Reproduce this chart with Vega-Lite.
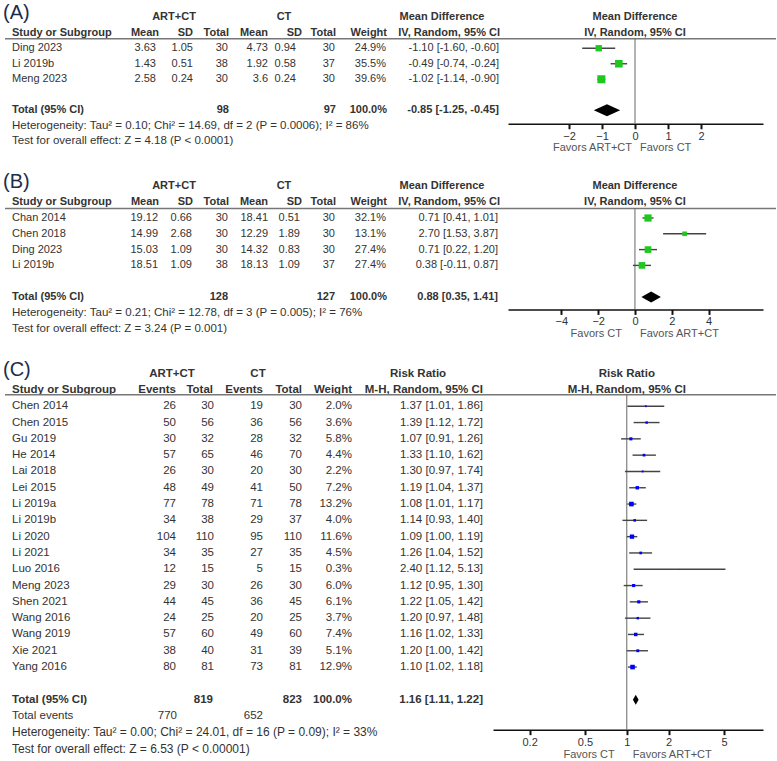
{
"$schema":"https://vega.github.io/schema/vega-lite/v6.json",
"background":"white",
"padding":{"top":2.5,"left":0,"right":0,"bottom":0},
"columns":2,
"spacing":{"row":0,"column":0},
"bounds":"flush",
"datasets":{
"A":[
{"study":"Ding 2023","m1":3.63,"sd1":1.05,"n1":30,"m2":4.73,"sd2":0.94,"n2":30,"w":0.249,"md":-1.10,"lo":-1.60,"hi":-0.60,"ci":"-1.10 [-1.60, -0.60]"},
{"study":"Li 2019b","m1":1.43,"sd1":0.51,"n1":38,"m2":1.92,"sd2":0.58,"n2":37,"w":0.355,"md":-0.49,"lo":-0.74,"hi":-0.24,"ci":"-0.49 [-0.74, -0.24]"},
{"study":"Meng 2023","m1":2.58,"sd1":0.24,"n1":30,"m2":3.6,"sd2":0.24,"n2":30,"w":0.396,"md":-1.02,"lo":-1.14,"hi":-0.90,"ci":"-1.02 [-1.14, -0.90]"}],
"A_tot":[{"study":"Total (95% CI)","n1":98,"n2":97,"w":1,"md":-0.85,"lo":-1.25,"hi":-0.45,"ci":"-0.85 [-1.25, -0.45]"}],
"A_notes":[{"row":"het","t":"Heterogeneity: Tau² = 0.10; Chi² = 14.69, df = 2 (P = 0.0006); I² = 86%"},{"row":"test","t":"Test for overall effect: Z = 4.18 (P < 0.0001)"}],
"B":[
{"study":"Chan 2014","m1":19.12,"sd1":0.66,"n1":30,"m2":18.41,"sd2":0.51,"n2":30,"w":0.321,"md":0.71,"lo":0.41,"hi":1.01,"ci":"0.71 [0.41, 1.01]"},
{"study":"Chen 2018","m1":14.99,"sd1":2.68,"n1":30,"m2":12.29,"sd2":1.89,"n2":30,"w":0.131,"md":2.70,"lo":1.53,"hi":3.87,"ci":"2.70 [1.53, 3.87]"},
{"study":"Ding 2023","m1":15.03,"sd1":1.09,"n1":30,"m2":14.32,"sd2":0.83,"n2":30,"w":0.274,"md":0.71,"lo":0.22,"hi":1.20,"ci":"0.71 [0.22, 1.20]"},
{"study":"Li 2019b","m1":18.51,"sd1":1.09,"n1":38,"m2":18.13,"sd2":1.09,"n2":37,"w":0.274,"md":0.38,"lo":-0.11,"hi":0.87,"ci":"0.38 [-0.11, 0.87]"}],
"B_tot":[{"study":"Total (95% CI)","n1":128,"n2":127,"w":1,"md":0.88,"lo":0.35,"hi":1.41,"ci":"0.88 [0.35, 1.41]"}],
"B_notes":[{"row":"het","t":"Heterogeneity: Tau² = 0.21; Chi² = 12.78, df = 3 (P = 0.005); I² = 76%"},{"row":"test","t":"Test for overall effect: Z = 3.24 (P = 0.001)"}],
"C":[
{"study":"Chen 2014","e1":26,"n1":30,"e2":19,"n2":30,"w":0.020,"rr":1.37,"lo":1.01,"hi":1.86,"ci":"1.37 [1.01, 1.86]"},
{"study":"Chen 2015","e1":50,"n1":56,"e2":36,"n2":56,"w":0.036,"rr":1.39,"lo":1.12,"hi":1.72,"ci":"1.39 [1.12, 1.72]"},
{"study":"Gu 2019","e1":30,"n1":32,"e2":28,"n2":32,"w":0.058,"rr":1.07,"lo":0.91,"hi":1.26,"ci":"1.07 [0.91, 1.26]"},
{"study":"He 2014","e1":57,"n1":65,"e2":46,"n2":70,"w":0.044,"rr":1.33,"lo":1.10,"hi":1.62,"ci":"1.33 [1.10, 1.62]"},
{"study":"Lai 2018","e1":26,"n1":30,"e2":20,"n2":30,"w":0.022,"rr":1.30,"lo":0.97,"hi":1.74,"ci":"1.30 [0.97, 1.74]"},
{"study":"Lei 2015","e1":48,"n1":49,"e2":41,"n2":50,"w":0.072,"rr":1.19,"lo":1.04,"hi":1.37,"ci":"1.19 [1.04, 1.37]"},
{"study":"Li 2019a","e1":77,"n1":78,"e2":71,"n2":78,"w":0.132,"rr":1.08,"lo":1.01,"hi":1.17,"ci":"1.08 [1.01, 1.17]"},
{"study":"Li 2019b","e1":34,"n1":38,"e2":29,"n2":37,"w":0.040,"rr":1.14,"lo":0.93,"hi":1.40,"ci":"1.14 [0.93, 1.40]"},
{"study":"Li 2020","e1":104,"n1":110,"e2":95,"n2":110,"w":0.116,"rr":1.09,"lo":1.00,"hi":1.19,"ci":"1.09 [1.00, 1.19]"},
{"study":"Li 2021","e1":34,"n1":35,"e2":27,"n2":35,"w":0.045,"rr":1.26,"lo":1.04,"hi":1.52,"ci":"1.26 [1.04, 1.52]"},
{"study":"Luo 2016","e1":12,"n1":15,"e2":5,"n2":15,"w":0.003,"rr":2.40,"lo":1.12,"hi":5.13,"ci":"2.40 [1.12, 5.13]"},
{"study":"Meng 2023","e1":29,"n1":30,"e2":26,"n2":30,"w":0.060,"rr":1.12,"lo":0.95,"hi":1.30,"ci":"1.12 [0.95, 1.30]"},
{"study":"Shen 2021","e1":44,"n1":45,"e2":36,"n2":45,"w":0.061,"rr":1.22,"lo":1.05,"hi":1.42,"ci":"1.22 [1.05, 1.42]"},
{"study":"Wang 2016","e1":24,"n1":25,"e2":20,"n2":25,"w":0.037,"rr":1.20,"lo":0.97,"hi":1.48,"ci":"1.20 [0.97, 1.48]"},
{"study":"Wang 2019","e1":57,"n1":60,"e2":49,"n2":60,"w":0.074,"rr":1.16,"lo":1.02,"hi":1.33,"ci":"1.16 [1.02, 1.33]"},
{"study":"Xie 2021","e1":38,"n1":40,"e2":31,"n2":39,"w":0.051,"rr":1.20,"lo":1.00,"hi":1.42,"ci":"1.20 [1.00, 1.42]"},
{"study":"Yang 2016","e1":80,"n1":81,"e2":73,"n2":81,"w":0.129,"rr":1.10,"lo":1.02,"hi":1.18,"ci":"1.10 [1.02, 1.18]"}],
"C_tot":[{"study":"Total (95% CI)","n1":819,"n2":823,"e1":770,"e2":652,"w":1,"rr":1.16,"lo":1.11,"hi":1.22,"ci":"1.16 [1.11, 1.22]"}],
"C_notes":[{"row":"het","t":"Heterogeneity: Tau² = 0.00; Chi² = 24.01, df = 16 (P = 0.09); I² = 33%"},{"row":"test","t":"Test for overall effect: Z = 6.53 (P < 0.00001)"}]
},
"concat":[
{
"width":493,"height":168.25,
"data":{"name":"A_tot"},
"layer":[
{"mark":{"type":"text","align":"left","fontSize":20,"color":"#1c2c4c","dy":-4},"encoding":{"x":{"datum":3,"type":"quantitative","scale":{"domain":[0,493],"nice":false,"zero":false},"axis":null},"y":{"datum":"h1","type":"nominal","scale":{"type":"point","domain":["h1","h2","Ding 2023","Li 2019b","Meng 2023","gap","Total (95% CI)","het","test","p1"],"padding":0.9274,"align":0.2696},"axis":null},"text":{"value":"(A)"}}},
{"mark":{"type":"text","align":"center","fontWeight":"bold"},"encoding":{"x":{"datum":174,"axis":null},"y":{"datum":"h1","axis":null},"text":{"value":"ART+CT"}}},
{"mark":{"type":"text","align":"center","fontWeight":"bold"},"encoding":{"x":{"datum":284,"axis":null},"y":{"datum":"h1","axis":null},"text":{"value":"CT"}}},
{"mark":{"type":"text","align":"center","fontWeight":"bold"},"encoding":{"x":{"datum":442,"axis":null},"y":{"datum":"h1","axis":null},"text":{"value":"Mean Difference"}}},
{"mark":{"type":"text","align":"left","fontWeight":"bold"},"encoding":{"x":{"datum":12,"axis":null},"y":{"datum":"h2","axis":null},"text":{"value":"Study or Subgroup"}}},
{"mark":{"type":"text","align":"right","fontWeight":"bold"},"encoding":{"x":{"datum":159,"axis":null},"y":{"datum":"h2","axis":null},"text":{"value":"Mean"}}},
{"mark":{"type":"text","align":"right","fontWeight":"bold"},"encoding":{"x":{"datum":193,"axis":null},"y":{"datum":"h2","axis":null},"text":{"value":"SD"}}},
{"mark":{"type":"text","align":"right","fontWeight":"bold"},"encoding":{"x":{"datum":229,"axis":null},"y":{"datum":"h2","axis":null},"text":{"value":"Total"}}},
{"mark":{"type":"text","align":"right","fontWeight":"bold"},"encoding":{"x":{"datum":268,"axis":null},"y":{"datum":"h2","axis":null},"text":{"value":"Mean"}}},
{"mark":{"type":"text","align":"right","fontWeight":"bold"},"encoding":{"x":{"datum":302,"axis":null},"y":{"datum":"h2","axis":null},"text":{"value":"SD"}}},
{"mark":{"type":"text","align":"right","fontWeight":"bold"},"encoding":{"x":{"datum":336,"axis":null},"y":{"datum":"h2","axis":null},"text":{"value":"Total"}}},
{"mark":{"type":"text","align":"right","fontWeight":"bold"},"encoding":{"x":{"datum":387,"axis":null},"y":{"datum":"h2","axis":null},"text":{"value":"Weight"}}},
{"mark":{"type":"text","align":"right","fontWeight":"bold"},"encoding":{"x":{"datum":500,"axis":null},"y":{"datum":"h2","axis":null},"text":{"value":"IV, Random, 95% CI"}}},
{"mark":{"type":"rule","color":"#777","strokeWidth":1.5,"yOffset":6},"encoding":{"x":{"datum":5,"axis":null},"x2":{"datum":493},"y":{"datum":"h2","axis":null}}},
{"data":{"name":"A"},"mark":{"type":"text","align":"left"},"encoding":{"x":{"datum":12,"axis":null},"y":{"field":"study","type":"nominal","axis":null},"text":{"field":"study","type":"nominal"}}},
{"data":{"name":"A"},"mark":{"type":"text","align":"right"},"encoding":{"x":{"datum":156,"axis":null},"y":{"field":"study","type":"nominal","axis":null},"text":{"field":"m1","type":"nominal"}}},
{"data":{"name":"A"},"mark":{"type":"text","align":"right"},"encoding":{"x":{"datum":193,"axis":null},"y":{"field":"study","type":"nominal","axis":null},"text":{"field":"sd1","type":"nominal"}}},
{"data":{"name":"A"},"mark":{"type":"text","align":"right"},"encoding":{"x":{"datum":228,"axis":null},"y":{"field":"study","type":"nominal","axis":null},"text":{"field":"n1","type":"nominal"}}},
{"data":{"name":"A"},"mark":{"type":"text","align":"right"},"encoding":{"x":{"datum":268,"axis":null},"y":{"field":"study","type":"nominal","axis":null},"text":{"field":"m2","type":"nominal"}}},
{"data":{"name":"A"},"mark":{"type":"text","align":"right"},"encoding":{"x":{"datum":296,"axis":null},"y":{"field":"study","type":"nominal","axis":null},"text":{"field":"sd2","type":"nominal"}}},
{"data":{"name":"A"},"mark":{"type":"text","align":"right"},"encoding":{"x":{"datum":335,"axis":null},"y":{"field":"study","type":"nominal","axis":null},"text":{"field":"n2","type":"nominal"}}},
{"data":{"name":"A"},"mark":{"type":"text","align":"right"},"encoding":{"x":{"datum":386,"axis":null},"y":{"field":"study","type":"nominal","axis":null},"text":{"field":"w","type":"quantitative","format":".1%"}}},
{"data":{"name":"A"},"mark":{"type":"text","align":"right"},"encoding":{"x":{"datum":499,"axis":null},"y":{"field":"study","type":"nominal","axis":null},"text":{"field":"ci","type":"nominal"}}},
{"mark":{"type":"text","align":"left","fontWeight":"bold"},"encoding":{"x":{"datum":12,"axis":null},"y":{"field":"study","type":"nominal","axis":null},"text":{"field":"study","type":"nominal"}}},
{"mark":{"type":"text","align":"right","fontWeight":"bold"},"encoding":{"x":{"datum":229,"axis":null},"y":{"field":"study","type":"nominal","axis":null},"text":{"field":"n1","type":"nominal"}}},
{"mark":{"type":"text","align":"right","fontWeight":"bold"},"encoding":{"x":{"datum":336,"axis":null},"y":{"field":"study","type":"nominal","axis":null},"text":{"field":"n2","type":"nominal"}}},
{"mark":{"type":"text","align":"right","fontWeight":"bold"},"encoding":{"x":{"datum":387,"axis":null},"y":{"field":"study","type":"nominal","axis":null},"text":{"field":"w","type":"quantitative","format":".1%"}}},
{"mark":{"type":"text","align":"right","fontWeight":"bold"},"encoding":{"x":{"datum":499,"axis":null},"y":{"field":"study","type":"nominal","axis":null},"text":{"field":"ci","type":"nominal"}}},
{"data":{"name":"A_notes"},"mark":{"type":"text","align":"left","fontSize":11.5},"encoding":{"x":{"datum":12,"axis":null},"y":{"field":"row","type":"nominal","axis":null},"text":{"field":"t","type":"nominal"}}}
]
},
{
"width":270,"height":114.25,
"data":{"name":"A_tot"},
"layer":[
{"mark":{"type":"rule","color":"#777","strokeWidth":1.5,"yOffset":6},"encoding":{"x":{"datum":-4.305},"x2":{"datum":4.274},"y":{"datum":"h2","type":"nominal","scale":{"type":"point","domain":["h1","h2","Ding 2023","Li 2019b","Meng 2023","gap","Total (95% CI)"],"padding":0.6855,"align":0.3647},"axis":null}}},
{"mark":{"type":"rule","orient":"vertical","color":"#666","strokeWidth":1,"yOffset":6,"y2Offset":13.5},"encoding":{"x":{"datum":0},"y":{"datum":"h2","axis":null},"y2":{"datum":"Total (95% CI)"}}},
{"mark":{"type":"text","align":"center","fontWeight":"bold"},"encoding":{"x":{"datum":0},"y":{"datum":"h1","axis":null},"text":{"value":"Mean Difference"}}},
{"mark":{"type":"text","align":"center","fontWeight":"bold"},"encoding":{"x":{"datum":0},"y":{"datum":"h2","axis":null},"text":{"value":"IV, Random, 95% CI"}}},
{"data":{"name":"A"},"mark":{"type":"rule","color":"#444","strokeWidth":1.4},"encoding":{"x":{"field":"lo","type":"quantitative","scale":{"domain":[-3.85,3.88],"range":[15,270],"nice":false,"zero":false},"axis":{"values":[-2,-1,0,1,2],"title":null,"grid":false,"domainColor":"#111","domainWidth":1.5,"tickColor":"#111","tickWidth":2,"tickSize":5,"labelFontSize":11,"labelColor":"#333","labelPadding":2,"labelFlush":false,"labelOverlap":false,"format":"~g"}},"x2":{"field":"hi"},"y":{"field":"study","type":"nominal","axis":null}}},
{"data":{"name":"A"},"mark":{"type":"point","shape":"square","filled":true,"color":"#1ec81e","opacity":1},"encoding":{"x":{"field":"md","type":"quantitative"},"y":{"field":"study","type":"nominal","axis":null},"size":{"field":"w","type":"quantitative","scale":{"domain":[0,0.4],"range":[0,65]},"legend":null}}},
{"mark":{"type":"point","shape":"M-2.2,0L0,-1L2.2,0L0,1Z","filled":true,"color":"#000","opacity":1,"size":144},"encoding":{"x":{"field":"md","type":"quantitative"},"y":{"field":"study","type":"nominal","axis":null}}},
{"mark":{"type":"text","align":"right","dx":-3,"dy":24,"color":"#555"},"encoding":{"x":{"datum":0},"y":{"value":"height"},"text":{"value":"Favors ART+CT"}}},
{"mark":{"type":"text","align":"left","dx":5,"dy":24,"color":"#555"},"encoding":{"x":{"datum":0},"y":{"value":"height"},"text":{"value":"Favors CT"}}}
]
},
{
"width":493,"height":186.75,
"data":{"name":"B_tot"},
"layer":[
{"mark":{"type":"text","align":"left","fontSize":20,"color":"#1c2c4c","dy":-4},"encoding":{"x":{"datum":3,"type":"quantitative","scale":{"domain":[0,493],"nice":false,"zero":false},"axis":null},"y":{"datum":"h1","type":"nominal","scale":{"type":"point","domain":["h1","h2","Chan 2014","Chen 2018","Ding 2023","Li 2019b","gap","Total (95% CI)","het","test","p1"],"padding":0.9098,"align":0.2748},"axis":null},"text":{"value":"(B)"}}},
{"mark":{"type":"text","align":"center","fontWeight":"bold"},"encoding":{"x":{"datum":174,"axis":null},"y":{"datum":"h1","axis":null},"text":{"value":"ART+CT"}}},
{"mark":{"type":"text","align":"center","fontWeight":"bold"},"encoding":{"x":{"datum":284,"axis":null},"y":{"datum":"h1","axis":null},"text":{"value":"CT"}}},
{"mark":{"type":"text","align":"center","fontWeight":"bold"},"encoding":{"x":{"datum":442,"axis":null},"y":{"datum":"h1","axis":null},"text":{"value":"Mean Difference"}}},
{"mark":{"type":"text","align":"left","fontWeight":"bold"},"encoding":{"x":{"datum":12,"axis":null},"y":{"datum":"h2","axis":null},"text":{"value":"Study or Subgroup"}}},
{"mark":{"type":"text","align":"right","fontWeight":"bold"},"encoding":{"x":{"datum":159,"axis":null},"y":{"datum":"h2","axis":null},"text":{"value":"Mean"}}},
{"mark":{"type":"text","align":"right","fontWeight":"bold"},"encoding":{"x":{"datum":193,"axis":null},"y":{"datum":"h2","axis":null},"text":{"value":"SD"}}},
{"mark":{"type":"text","align":"right","fontWeight":"bold"},"encoding":{"x":{"datum":229,"axis":null},"y":{"datum":"h2","axis":null},"text":{"value":"Total"}}},
{"mark":{"type":"text","align":"right","fontWeight":"bold"},"encoding":{"x":{"datum":268,"axis":null},"y":{"datum":"h2","axis":null},"text":{"value":"Mean"}}},
{"mark":{"type":"text","align":"right","fontWeight":"bold"},"encoding":{"x":{"datum":302,"axis":null},"y":{"datum":"h2","axis":null},"text":{"value":"SD"}}},
{"mark":{"type":"text","align":"right","fontWeight":"bold"},"encoding":{"x":{"datum":336,"axis":null},"y":{"datum":"h2","axis":null},"text":{"value":"Total"}}},
{"mark":{"type":"text","align":"right","fontWeight":"bold"},"encoding":{"x":{"datum":387,"axis":null},"y":{"datum":"h2","axis":null},"text":{"value":"Weight"}}},
{"mark":{"type":"text","align":"right","fontWeight":"bold"},"encoding":{"x":{"datum":500,"axis":null},"y":{"datum":"h2","axis":null},"text":{"value":"IV, Random, 95% CI"}}},
{"mark":{"type":"rule","color":"#777","strokeWidth":1.5,"yOffset":6.2},"encoding":{"x":{"datum":5,"axis":null},"x2":{"datum":493},"y":{"datum":"h2","axis":null}}},
{"data":{"name":"B"},"mark":{"type":"text","align":"left"},"encoding":{"x":{"datum":12,"axis":null},"y":{"field":"study","type":"nominal","axis":null},"text":{"field":"study","type":"nominal"}}},
{"data":{"name":"B"},"mark":{"type":"text","align":"right"},"encoding":{"x":{"datum":158,"axis":null},"y":{"field":"study","type":"nominal","axis":null},"text":{"field":"m1","type":"nominal"}}},
{"data":{"name":"B"},"mark":{"type":"text","align":"right"},"encoding":{"x":{"datum":192,"axis":null},"y":{"field":"study","type":"nominal","axis":null},"text":{"field":"sd1","type":"nominal"}}},
{"data":{"name":"B"},"mark":{"type":"text","align":"right"},"encoding":{"x":{"datum":228,"axis":null},"y":{"field":"study","type":"nominal","axis":null},"text":{"field":"n1","type":"nominal"}}},
{"data":{"name":"B"},"mark":{"type":"text","align":"right"},"encoding":{"x":{"datum":268,"axis":null},"y":{"field":"study","type":"nominal","axis":null},"text":{"field":"m2","type":"nominal"}}},
{"data":{"name":"B"},"mark":{"type":"text","align":"right"},"encoding":{"x":{"datum":300,"axis":null},"y":{"field":"study","type":"nominal","axis":null},"text":{"field":"sd2","type":"nominal"}}},
{"data":{"name":"B"},"mark":{"type":"text","align":"right"},"encoding":{"x":{"datum":335,"axis":null},"y":{"field":"study","type":"nominal","axis":null},"text":{"field":"n2","type":"nominal"}}},
{"data":{"name":"B"},"mark":{"type":"text","align":"right"},"encoding":{"x":{"datum":386,"axis":null},"y":{"field":"study","type":"nominal","axis":null},"text":{"field":"w","type":"quantitative","format":".1%"}}},
{"data":{"name":"B"},"mark":{"type":"text","align":"right"},"encoding":{"x":{"datum":498,"axis":null},"y":{"field":"study","type":"nominal","axis":null},"text":{"field":"ci","type":"nominal"}}},
{"mark":{"type":"text","align":"left","fontWeight":"bold"},"encoding":{"x":{"datum":12,"axis":null},"y":{"field":"study","type":"nominal","axis":null},"text":{"field":"study","type":"nominal"}}},
{"mark":{"type":"text","align":"right","fontWeight":"bold"},"encoding":{"x":{"datum":228,"axis":null},"y":{"field":"study","type":"nominal","axis":null},"text":{"field":"n1","type":"nominal"}}},
{"mark":{"type":"text","align":"right","fontWeight":"bold"},"encoding":{"x":{"datum":335,"axis":null},"y":{"field":"study","type":"nominal","axis":null},"text":{"field":"n2","type":"nominal"}}},
{"mark":{"type":"text","align":"right","fontWeight":"bold"},"encoding":{"x":{"datum":387,"axis":null},"y":{"field":"study","type":"nominal","axis":null},"text":{"field":"w","type":"quantitative","format":".1%"}}},
{"mark":{"type":"text","align":"right","fontWeight":"bold"},"encoding":{"x":{"datum":498,"axis":null},"y":{"field":"study","type":"nominal","axis":null},"text":{"field":"ci","type":"nominal"}}},
{"data":{"name":"B_notes"},"mark":{"type":"text","align":"left","fontSize":11.5},"encoding":{"x":{"datum":12,"axis":null},"y":{"field":"row","type":"nominal","axis":null},"text":{"field":"t","type":"nominal"}}}
]
},
{
"width":270,"height":130.9,
"data":{"name":"B_tot"},
"layer":[
{"mark":{"type":"rule","color":"#777","strokeWidth":1.5,"yOffset":6.2},"encoding":{"x":{"datum":-7.715},"x2":{"datum":7.667},"y":{"datum":"h2","type":"nominal","scale":{"type":"point","domain":["h1","h2","Chan 2014","Chen 2018","Ding 2023","Li 2019b","gap","Total (95% CI)"],"padding":0.6424,"align":0.3892},"axis":null}}},
{"mark":{"type":"rule","orient":"vertical","color":"#666","strokeWidth":1,"yOffset":6.2,"y2Offset":12.4},"encoding":{"x":{"datum":0},"y":{"datum":"h2","axis":null},"y2":{"datum":"Total (95% CI)"}}},
{"mark":{"type":"text","align":"center","fontWeight":"bold"},"encoding":{"x":{"datum":0},"y":{"datum":"h1","axis":null},"text":{"value":"Mean Difference"}}},
{"mark":{"type":"text","align":"center","fontWeight":"bold"},"encoding":{"x":{"datum":0},"y":{"datum":"h2","axis":null},"text":{"value":"IV, Random, 95% CI"}}},
{"data":{"name":"B"},"mark":{"type":"rule","color":"#444","strokeWidth":1.4},"encoding":{"x":{"field":"lo","type":"quantitative","scale":{"domain":[-6.9,6.96],"range":[15,270],"nice":false,"zero":false},"axis":{"values":[-4,-2,0,2,4],"title":null,"grid":false,"domainColor":"#111","domainWidth":1.5,"tickColor":"#111","tickWidth":2,"tickSize":5,"labelFontSize":11,"labelColor":"#333","labelPadding":1,"labelFlush":false,"labelOverlap":false,"format":"~g"}},"x2":{"field":"hi"},"y":{"field":"study","type":"nominal","axis":null}}},
{"data":{"name":"B"},"mark":{"type":"point","shape":"square","filled":true,"color":"#1ec81e","opacity":1},"encoding":{"x":{"field":"md","type":"quantitative"},"y":{"field":"study","type":"nominal","axis":null},"size":{"field":"w","type":"quantitative","scale":{"domain":[0,0.321],"range":[0,64]},"legend":null}}},
{"mark":{"type":"point","shape":"M-1.77,0L0,-1L1.77,0L0,1Z","filled":true,"color":"#000","opacity":1,"size":121},"encoding":{"x":{"field":"md","type":"quantitative"},"y":{"field":"study","type":"nominal","axis":null}}},
{"mark":{"type":"text","align":"right","dx":-13,"dy":25,"color":"#555"},"encoding":{"x":{"datum":0},"y":{"value":"height"},"text":{"value":"Favors CT"}}},
{"mark":{"type":"text","align":"left","dx":5,"dy":25,"color":"#555"},"encoding":{"x":{"datum":0},"y":{"value":"height"},"text":{"value":"Favors ART+CT"}}}
]
},
{
"width":493,"height":391.2,
"data":{"name":"C_tot"},
"layer":[
{"mark":{"type":"text","align":"left","fontSize":20,"color":"#1c2c4c","dy":-4},"encoding":{"x":{"datum":3,"type":"quantitative","scale":{"domain":[0,493],"nice":false,"zero":false},"axis":null},"y":{"datum":"h1","type":"nominal","scale":{"type":"point","domain":["h1","h2","Chen 2014","Chen 2015","Gu 2019","He 2014","Lai 2018","Lei 2015","Li 2019a","Li 2019b","Li 2020","Li 2021","Luo 2016","Meng 2023","Shen 2021","Wang 2016","Wang 2019","Xie 2021","Yang 2016","gap","Total (95% CI)","events","het","test"],"padding":0.5,"align":0.5},"axis":null},"text":{"value":"(C)"}}},
{"mark":{"type":"text","align":"center","fontWeight":"bold","fontSize":11.5},"encoding":{"x":{"datum":172,"axis":null},"y":{"datum":"h1","axis":null},"text":{"value":"ART+CT"}}},
{"mark":{"type":"text","align":"center","fontWeight":"bold","fontSize":11.5},"encoding":{"x":{"datum":258,"axis":null},"y":{"datum":"h1","axis":null},"text":{"value":"CT"}}},
{"mark":{"type":"text","align":"center","fontWeight":"bold","fontSize":11.5},"encoding":{"x":{"datum":418,"axis":null},"y":{"datum":"h1","axis":null},"text":{"value":"Risk Ratio"}}},
{"mark":{"type":"text","align":"left","fontWeight":"bold","fontSize":11.5},"encoding":{"x":{"datum":12,"axis":null},"y":{"datum":"h2","axis":null},"text":{"value":"Study or Subgroup"}}},
{"mark":{"type":"text","align":"right","fontWeight":"bold","fontSize":11.5},"encoding":{"x":{"datum":176,"axis":null},"y":{"datum":"h2","axis":null},"text":{"value":"Events"}}},
{"mark":{"type":"text","align":"right","fontWeight":"bold","fontSize":11.5},"encoding":{"x":{"datum":213,"axis":null},"y":{"datum":"h2","axis":null},"text":{"value":"Total"}}},
{"mark":{"type":"text","align":"right","fontWeight":"bold","fontSize":11.5},"encoding":{"x":{"datum":263,"axis":null},"y":{"datum":"h2","axis":null},"text":{"value":"Events"}}},
{"mark":{"type":"text","align":"right","fontWeight":"bold","fontSize":11.5},"encoding":{"x":{"datum":302,"axis":null},"y":{"datum":"h2","axis":null},"text":{"value":"Total"}}},
{"mark":{"type":"text","align":"right","fontWeight":"bold","fontSize":11.5},"encoding":{"x":{"datum":352,"axis":null},"y":{"datum":"h2","axis":null},"text":{"value":"Weight"}}},
{"mark":{"type":"text","align":"right","fontWeight":"bold","fontSize":11.5},"encoding":{"x":{"datum":483,"axis":null},"y":{"datum":"h2","axis":null},"text":{"value":"M-H, Random, 95% CI"}}},
{"mark":{"type":"rule","color":"#777","strokeWidth":1.5,"yOffset":4.7},"encoding":{"x":{"datum":5,"axis":null},"x2":{"datum":493},"y":{"datum":"h2","axis":null}}},
{"data":{"name":"C"},"mark":{"type":"text","align":"left","fontSize":11.5},"encoding":{"x":{"datum":12,"axis":null},"y":{"field":"study","type":"nominal","axis":null},"text":{"field":"study","type":"nominal"}}},
{"data":{"name":"C"},"mark":{"type":"text","align":"right","fontSize":11.5},"encoding":{"x":{"datum":176,"axis":null},"y":{"field":"study","type":"nominal","axis":null},"text":{"field":"e1","type":"nominal"}}},
{"data":{"name":"C"},"mark":{"type":"text","align":"right","fontSize":11.5},"encoding":{"x":{"datum":214,"axis":null},"y":{"field":"study","type":"nominal","axis":null},"text":{"field":"n1","type":"nominal"}}},
{"data":{"name":"C"},"mark":{"type":"text","align":"right","fontSize":11.5},"encoding":{"x":{"datum":263,"axis":null},"y":{"field":"study","type":"nominal","axis":null},"text":{"field":"e2","type":"nominal"}}},
{"data":{"name":"C"},"mark":{"type":"text","align":"right","fontSize":11.5},"encoding":{"x":{"datum":302,"axis":null},"y":{"field":"study","type":"nominal","axis":null},"text":{"field":"n2","type":"nominal"}}},
{"data":{"name":"C"},"mark":{"type":"text","align":"right","fontSize":11.5},"encoding":{"x":{"datum":352,"axis":null},"y":{"field":"study","type":"nominal","axis":null},"text":{"field":"w","type":"quantitative","format":".1%"}}},
{"data":{"name":"C"},"mark":{"type":"text","align":"right","fontSize":11.5},"encoding":{"x":{"datum":483,"axis":null},"y":{"field":"study","type":"nominal","axis":null},"text":{"field":"ci","type":"nominal"}}},
{"mark":{"type":"text","align":"left","fontWeight":"bold","fontSize":11.5},"encoding":{"x":{"datum":12,"axis":null},"y":{"field":"study","type":"nominal","axis":null},"text":{"field":"study","type":"nominal"}}},
{"mark":{"type":"text","align":"right","fontWeight":"bold","fontSize":11.5},"encoding":{"x":{"datum":213,"axis":null},"y":{"field":"study","type":"nominal","axis":null},"text":{"field":"n1","type":"nominal"}}},
{"mark":{"type":"text","align":"right","fontWeight":"bold","fontSize":11.5},"encoding":{"x":{"datum":302,"axis":null},"y":{"field":"study","type":"nominal","axis":null},"text":{"field":"n2","type":"nominal"}}},
{"mark":{"type":"text","align":"right","fontWeight":"bold","fontSize":11.5},"encoding":{"x":{"datum":352,"axis":null},"y":{"field":"study","type":"nominal","axis":null},"text":{"field":"w","type":"quantitative","format":".1%"}}},
{"mark":{"type":"text","align":"right","fontWeight":"bold","fontSize":11.5},"encoding":{"x":{"datum":483,"axis":null},"y":{"field":"study","type":"nominal","axis":null},"text":{"field":"ci","type":"nominal"}}},
{"mark":{"type":"text","align":"left","fontSize":11.5},"encoding":{"x":{"datum":12,"axis":null},"y":{"datum":"events","axis":null},"text":{"value":"Total events"}}},
{"mark":{"type":"text","align":"right","fontSize":11.5},"encoding":{"x":{"datum":177,"axis":null},"y":{"datum":"events","axis":null},"text":{"field":"e1","type":"nominal"}}},
{"mark":{"type":"text","align":"right","fontSize":11.5},"encoding":{"x":{"datum":263,"axis":null},"y":{"datum":"events","axis":null},"text":{"field":"e2","type":"nominal"}}},
{"data":{"name":"C_notes"},"mark":{"type":"text","align":"left","fontSize":12},"encoding":{"x":{"datum":12,"axis":null},"y":{"field":"row","type":"nominal","axis":null},"text":{"field":"t","type":"nominal"}}}
]
},
{
"width":270,"height":364.15,
"data":{"name":"C_tot"},
"layer":[
{"mark":{"type":"rule","color":"#777","strokeWidth":1.5,"yOffset":4.7},"encoding":{"x":{"datum":0.109},"x2":{"datum":11.85},"y":{"datum":"h2","type":"nominal","scale":{"type":"point","domain":["h1","h2","Chen 2014","Chen 2015","Gu 2019","He 2014","Lai 2018","Lei 2015","Li 2019a","Li 2019b","Li 2020","Li 2021","Luo 2016","Meng 2023","Shen 2021","Wang 2016","Wang 2019","Xie 2021","Yang 2016","gap","Total (95% CI)","p1"],"padding":0.6701,"align":0.373},"axis":null}}},
{"mark":{"type":"rule","orient":"vertical","color":"#666","strokeWidth":1,"yOffset":4.7,"y2Offset":30},"encoding":{"x":{"datum":1},"y":{"datum":"h2","axis":null},"y2":{"datum":"Total (95% CI)"}}},
{"mark":{"type":"text","align":"center","fontWeight":"bold","fontSize":11.5},"encoding":{"x":{"datum":1},"y":{"datum":"h1","axis":null},"text":{"value":"Risk Ratio"}}},
{"mark":{"type":"text","align":"center","fontWeight":"bold","fontSize":11.5},"encoding":{"x":{"datum":1},"y":{"datum":"h2","axis":null},"text":{"value":"M-H, Random, 95% CI"}}},
{"data":{"name":"C"},"mark":{"type":"rule","color":"#444","strokeWidth":1.4},"encoding":{"x":{"field":"lo","type":"quantitative","scale":{"type":"log","domain":[0.109,9.55],"range":[0,270],"nice":false,"zero":false},"axis":{"values":[0.2,0.5,1,2,5],"title":null,"grid":false,"domainColor":"#111","domainWidth":1.5,"tickColor":"#111","tickWidth":2,"tickSize":5,"labelFontSize":11,"labelColor":"#333","labelPadding":2,"labelFlush":false,"labelOverlap":false,"format":"~g"}},"x2":{"field":"hi"},"y":{"field":"study","type":"nominal","axis":null}}},
{"data":{"name":"C"},"mark":{"type":"point","shape":"square","filled":true,"color":"#0000ff","opacity":1},"encoding":{"x":{"field":"rr","type":"quantitative"},"y":{"field":"study","type":"nominal","axis":null},"size":{"field":"w","type":"quantitative","scale":{"domain":[0,0.132],"range":[2,32]},"legend":null}}},
{"mark":{"type":"point","shape":"M-0.57,0L0,-1L0.57,0L0,1Z","filled":true,"color":"#000","opacity":1,"size":100},"encoding":{"x":{"field":"rr","type":"quantitative"},"y":{"field":"study","type":"nominal","axis":null}}},
{"mark":{"type":"text","align":"right","dx":-12,"dy":25,"color":"#555"},"encoding":{"x":{"datum":1},"y":{"value":"height"},"text":{"value":"Favors CT"}}},
{"mark":{"type":"text","align":"left","dx":6,"dy":25,"color":"#555"},"encoding":{"x":{"datum":1},"y":{"value":"height"},"text":{"value":"Favors ART+CT"}}}
]
}
],
"config":{
"view":{"stroke":null},
"text":{"font":"Liberation Sans","fontSize":11,"color":"#333"},
"axis":{"labelFont":"Liberation Sans"}
}
}
